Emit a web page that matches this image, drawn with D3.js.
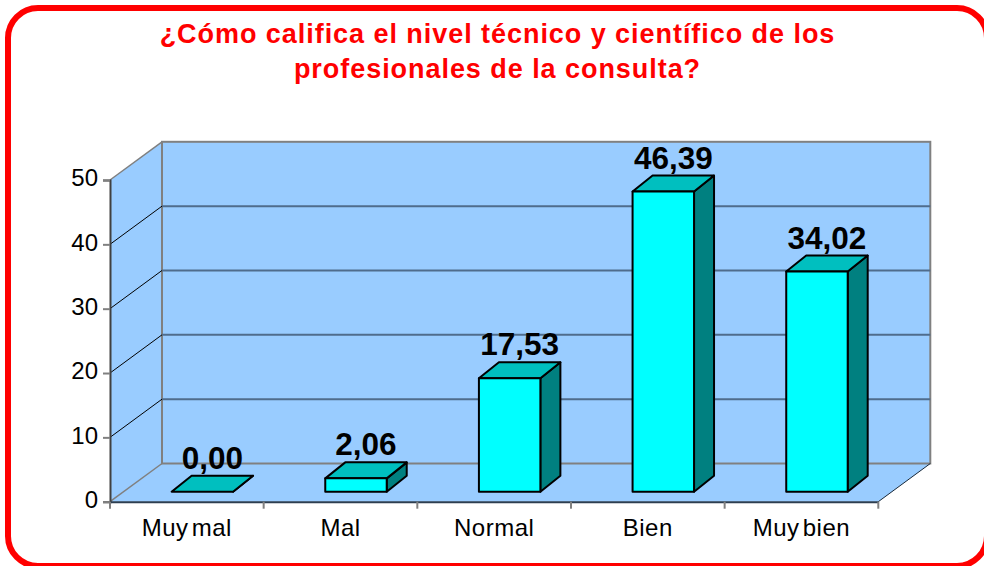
<!DOCTYPE html>
<html>
<head>
	<meta charset="utf-8">
	<title>Nivel técnico y científico</title>
	<style>
		body {
			margin: 0;
			background: #fff;
		}
		svg {
			display: block;
			font-family: "Liberation Sans", Arial, sans-serif;
		}
		.title {
			font-size: 27px;
			font-weight: bold;
			fill: #ff0000;
			text-anchor: middle;
			letter-spacing: 0.95px;
		}
		.cat-label {
			font-size: 24px;
			fill: #000;
			text-anchor: middle;
			letter-spacing: 0.5px;
			word-spacing: -4px;
		}
		.value-label {
			font-size: 31.5px;
			font-weight: bold;
			fill: #000;
			text-anchor: middle;
		}
	</style>
</head>
<body>
	<div id="chart"></div>
	<script src="https://cdn.jsdelivr.net/npm/d3@7"></script>
	<script>
		var titleLines = ['¿Cómo califica el nivel técnico y científico de los', 'profesionales de la consulta?'];
		var categories = ['Muy mal', 'Mal', 'Normal', 'Bien', 'Muy bien'];
		var values = [0.00, 2.06, 17.53, 46.39, 34.02];
		var valueLabels = ['0,00', '2,06', '17,53', '46,39', '34,02'];
		var yTicks = [0, 10, 20, 30, 40, 50];

		(function bootstrap() {
			var bounds = { width: 984, height: 566 };

			// front edge of the plot, the back wall sits behind it by depth
			var front = { left: 110, right: 878.3, bottom: 501.7, top: 180 };
			var depth = { x: 52, y: -38.2 };

			// the bars stand in the middle of the floor, with less depth
			var barShift = { x: 15.5, y: -10 };
			var barDepth = { x: 20, y: -16 };

			var svg = d3.select('#chart')
				.append('svg')
				.attr('width', bounds.width)
				.attr('height', bounds.height);

			// red frame, runs slightly out of the picture on the right and bottom
			svg.append('rect')
				.attr('x', 8)
				.attr('y', 8)
				.attr('width', 979)
				.attr('height', 558)
				.attr('rx', 30)
				.attr('ry', 30)
				.attr('fill', '#fff')
				.attr('stroke', '#ff0000')
				.attr('stroke-width', 6);

			svg.selectAll('.title')
				.data(titleLines)
				.enter()
				.append('text')
				.attr('class', 'title')
				.attr('x', 497.5)
				.attr('y', function (d, i) { return 43 + i * 35; })
				.text(function (d) { return d; });

			var y = d3.scaleLinear()
				.domain([0, 50])
				.range([front.bottom, front.top]);

			// bars are drawn a bit taller than the axis in the original
			var barY = d3.scaleLinear()
				.domain([0, 50])
				.range([front.bottom + barShift.y, front.bottom + barShift.y - 323.5]);

			var x = d3.scaleBand()
				.domain(categories)
				.range([front.left, front.right])
				.paddingInner(0.6)
				.paddingOuter(0.3);

			var pts = function (list) {
				return list.map(function (p) { return p[0] + ',' + p[1]; }).join(' ');
			};

			var wallColor = '#99ccff';

			// side wall
			svg.append('polygon')
				.attr('points', pts([
					[front.left, front.bottom],
					[front.left, y(50)],
					[front.left + depth.x, y(50) + depth.y],
					[front.left + depth.x, front.bottom + depth.y]
				]))
				.attr('fill', wallColor);

			// floor
			svg.append('polygon')
				.attr('points', pts([
					[front.left, front.bottom],
					[front.right, front.bottom],
					[front.right + depth.x, front.bottom + depth.y],
					[front.left + depth.x, front.bottom + depth.y]
				]))
				.attr('fill', wallColor);

			// back wall
			svg.append('rect')
				.attr('x', front.left + depth.x)
				.attr('y', y(50) + depth.y)
				.attr('width', front.right - front.left)
				.attr('height', front.bottom - y(50))
				.attr('fill', wallColor)
				.attr('stroke', '#808080')
				.attr('stroke-width', 2);

			// gridlines on the back wall
			svg.selectAll('.grid-back')
				.data(yTicks.slice(1, -1))
				.enter()
				.append('line')
				.attr('class', 'grid-back')
				.attr('x1', front.left + depth.x)
				.attr('x2', front.right + depth.x)
				.attr('y1', function (d) { return y(d) + depth.y; })
				.attr('y2', function (d) { return y(d) + depth.y; })
				.attr('stroke', '#4f6c8c')
				.attr('stroke-width', 2);

			// gridlines on the side wall
			svg.selectAll('.grid-side')
				.data(yTicks.slice(1, -1))
				.enter()
				.append('line')
				.attr('class', 'grid-side')
				.attr('x1', front.left)
				.attr('x2', front.left + depth.x)
				.attr('y1', function (d) { return y(d); })
				.attr('y2', function (d) { return y(d) + depth.y; })
				.attr('stroke', '#000')
				.attr('stroke-width', 1);

			// top and bottom edges of the side wall
			svg.append('line')
				.attr('x1', front.left).attr('y1', y(50))
				.attr('x2', front.left + depth.x).attr('y2', y(50) + depth.y)
				.attr('stroke', '#808080').attr('stroke-width', 1.5);
			svg.append('line')
				.attr('x1', front.left).attr('y1', y(0))
				.attr('x2', front.left + depth.x).attr('y2', y(0) + depth.y)
				.attr('stroke', '#808080').attr('stroke-width', 1.5);

			// right edge of the floor
			svg.append('line')
				.attr('x1', front.right).attr('y1', y(0))
				.attr('x2', front.right + depth.x).attr('y2', y(0) + depth.y)
				.attr('stroke', '#1a2a3a').attr('stroke-width', 1);

			// axes
			var yAxis = svg.append('g')
				.attr('transform', 'translate(' + front.left + ',0)')
				.call(d3.axisLeft(y).tickValues(yTicks).tickSize(7).tickPadding(5));
			yAxis.selectAll('text').style('font-size', '24px').style('font-family', 'inherit').attr('dy', '0.24em');
			yAxis.selectAll('.tick line').attr('stroke', '#808080').attr('stroke-width', 2);
			yAxis.select('.domain').attr('stroke', '#404040').attr('stroke-width', 2);

			var xAxis = svg.append('g')
				.attr('transform', 'translate(0,' + front.bottom + ')')
				.call(d3.axisBottom(x).tickSize(0).tickFormat(''));
			xAxis.select('.domain').attr('stroke', '#2d3e50').attr('stroke-width', 2);

			// tick marks sit between the categories
			var step = x.step();
			svg.selectAll('.x-tick')
				.data(d3.range(categories.length + 1))
				.enter()
				.append('line')
				.attr('class', 'x-tick')
				.attr('x1', function (d) { return front.left + d * step; })
				.attr('x2', function (d) { return front.left + d * step; })
				.attr('y1', front.bottom)
				.attr('y2', front.bottom + 7)
				.attr('stroke', '#808080')
				.attr('stroke-width', 2);

			svg.selectAll('.cat-label')
				.data(categories)
				.enter()
				.append('text')
				.attr('class', 'cat-label')
				.attr('x', function (d, i) { return front.left + (i + 0.5) * step; })
				.attr('y', 536)
				.text(function (d) { return d; });

			// bars: side, top and front faces
			var barX = function (d) { return x(d) + barShift.x; };
			var bw = x.bandwidth();
			var bars = svg.selectAll('.bar')
				.data(categories)
				.enter()
				.append('g')
				.attr('class', 'bar')
				.attr('stroke', '#000')
				.attr('stroke-width', 2)
				.attr('stroke-linejoin', 'round');

			bars.append('polygon')
				.attr('fill', '#008080')
				.attr('points', function (d, i) {
					var x1 = barX(d) + bw, top = barY(values[i]), base = barY(0);
					return pts([[x1, top], [x1 + barDepth.x, top + barDepth.y], [x1 + barDepth.x, base + barDepth.y], [x1, base]]);
				});

			bars.append('polygon')
				.attr('fill', '#00bfbf')
				.attr('points', function (d, i) {
					var x0 = barX(d), top = barY(values[i]);
					return pts([[x0, top], [x0 + bw, top], [x0 + bw + barDepth.x, top + barDepth.y], [x0 + barDepth.x, top + barDepth.y]]);
				});

			bars.append('rect')
				.attr('fill', '#00ffff')
				.attr('x', barX)
				.attr('y', function (d, i) { return barY(values[i]); })
				.attr('width', bw)
				.attr('height', function (d, i) { return barY(0) - barY(values[i]); });

			svg.selectAll('.value-label')
				.data(categories)
				.enter()
				.append('text')
				.attr('class', 'value-label')
				.attr('x', function (d) { return barX(d) + bw / 2 + barDepth.x / 2; })
				.attr('y', function (d, i) { return barY(values[i]) - 23; })
				.text(function (d, i) { return valueLabels[i]; });
		})();
	</script>
</body>
</html>
